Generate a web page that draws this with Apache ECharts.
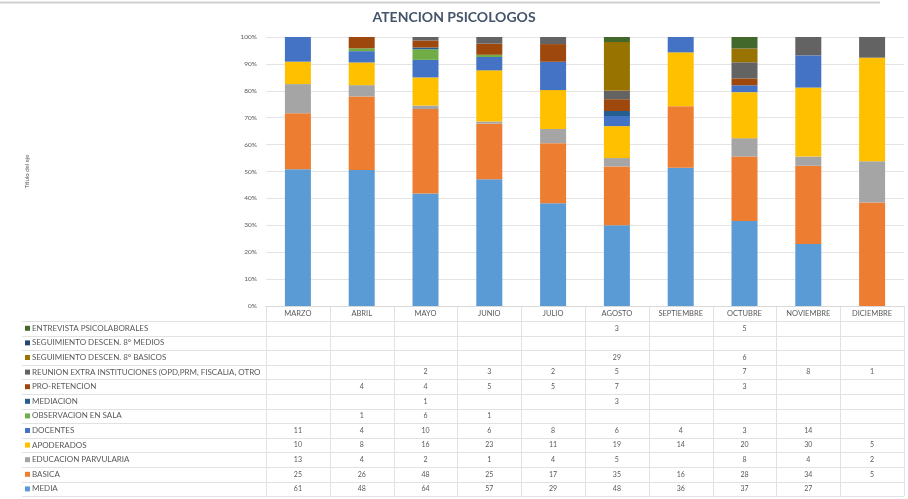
<!DOCTYPE html>
<html>
<head>
<meta charset="utf-8">
<title>Atención psicólogos</title>
<script src="https://cdn.jsdelivr.net/npm/echarts@6/dist/echarts.min.js"></script>
<style>
  html, body { margin: 0; padding: 0; background: #fff; }
  #chart { width: 908px; height: 499px; }
</style>
</head>
<body>
<div id="chart"></div>
<script>
// categorias (meses)
const months = ['MARZO', 'ABRIL', 'MAYO', 'JUNIO', 'JULIO', 'AGOSTO', 'SEPTIEMBRE', 'OCTUBRE', 'NOVIEMBRE', 'DICIEMBRE']

// atenciones por tipo y mes (null = celda vacia)
const media = [61, 48, 64, 57, 29, 48, 36, 37, 27, null]
const basica = [25, 26, 48, 25, 17, 35, 16, 28, 34, 5]
const parvularia = [13, 4, 2, 1, 4, 5, null, 8, 4, 2]
const apoderados = [10, 8, 16, 23, 11, 19, 14, 20, 30, 5]
const docentes = [11, 4, 10, 6, 8, 6, 4, 3, 14, null]
const observacion = [null, 1, 6, 1, null, null, null, null, null, null]
const mediacion = [null, null, 1, null, null, 3, null, null, null, null]
const proRetencion = [null, 4, 4, 5, 5, 7, null, 3, null, null]
const reunion = [null, null, 2, 3, 2, 5, null, 7, 8, 1]
const segBasicos = [null, null, null, null, null, 29, null, 6, null, null]
const segMedios = [null, null, null, null, null, null, null, null, null, null]
const entrevista = [null, null, null, null, null, 3, null, 5, null, null]

// orden de apilado: de abajo hacia arriba
const seriesDefs = [
  { name: 'MEDIA', data: media, color: '#5B9BD5' },
  { name: 'BASICA', data: basica, color: '#ED7D31' },
  { name: 'EDUCACION PARVULARIA', data: parvularia, color: '#A5A5A5' },
  { name: 'APODERADOS', data: apoderados, color: '#FFC000' },
  { name: 'DOCENTES', data: docentes, color: '#4472C4' },
  { name: 'OBSERVACION EN SALA', data: observacion, color: '#70AD47' },
  { name: 'MEDIACION', data: mediacion, color: '#255E91' },
  { name: 'PRO-RETENCION', data: proRetencion, color: '#9E480E' },
  { name: 'REUNION EXTRA INSTITUCIONES (OPD,PRM, FISCALIA, OTROS)', data: reunion, color: '#636363' },
  { name: 'SEGUIMIENTO DESCEN. 8° BASICOS', data: segBasicos, color: '#997300' },
  { name: 'SEGUIMIENTO DESCEN. 8° MEDIOS', data: segMedios, color: '#264478' },
  { name: 'ENTREVISTA PSICOLABORALES', data: entrevista, color: '#43682B' }
]

const totals = months.map((m, i) => seriesDefs.reduce((s, d) => s + (d.data[i] || 0), 0))

const W = 908
const gridLeft = 266
const gridRight = 4
const gridTop = 37
const gridBottom = 193
const textColor = '#595959'

let myChart = echarts.init(document.getElementById('chart'))
myChart.setOption({
  animation: false,
  textStyle: { fontFamily: 'Lato, "Open Sans", sans-serif' },
  title: {
    text: 'ATENCION PSICOLOGOS',
    left: 'center',
    top: 5,
    textStyle: { fontSize: 14, fontWeight: 'bold', color: '#44546A' }
  },
  grid: { left: gridLeft, right: gridRight, top: gridTop, bottom: gridBottom },
  xAxis: {
    type: 'category',
    data: months,
    axisTick: { show: false },
    axisLine: { lineStyle: { color: '#d9d9d9' } },
    axisLabel: { fontSize: 7.5, color: textColor, margin: 4, interval: 0 }
  },
  yAxis: {
    type: 'value',
    min: 0,
    max: 100,
    interval: 10,
    name: 'Título del eje',
    nameLocation: 'middle',
    nameGap: 236,
    nameTextStyle: { fontSize: 6, color: textColor },
    axisLabel: { formatter: '{value}%', fontSize: 6.5, color: textColor, margin: 9 },
    splitLine: { lineStyle: { color: '#e4e4e4' } }
  },
  series: seriesDefs.map(d => ({
    name: d.name,
    type: 'bar',
    stack: 'total',
    barWidth: 26,
    itemStyle: { color: d.color },
    data: d.data.map((v, i) => (v == null ? null : v / totals[i] * 100))
  }))
})

// tabla de datos bajo el grafico
const rowTop = 321
const rowH = 14.6
const tableLeft = 22
const tableRight = W - gridRight
const band = (W - gridLeft - gridRight) / months.length
const tableRows = seriesDefs.slice().reverse()
const tableBottom = rowTop + tableRows.length * rowH
const lineStyle = { stroke: '#e2e2e2', lineWidth: 1 }
let graphic = []

for (let r = 0; r <= tableRows.length; r++) {
  const y = Math.round(rowTop + r * rowH) + 0.5
  graphic.push({ type: 'line', silent: true, shape: { x1: tableLeft, y1: y, x2: tableRight, y2: y }, style: lineStyle })
}
for (let c = 0; c <= months.length; c++) {
  const x = Math.round(gridLeft + c * band) + 0.5
  graphic.push({ type: 'line', silent: true, shape: { x1: x, y1: 306, x2: x, y2: tableBottom }, style: lineStyle })
}

tableRows.forEach((d, r) => {
  const yc = rowTop + r * rowH + rowH / 2
  graphic.push({ type: 'rect', silent: true, shape: { x: 25, y: yc - 2.5, width: 5, height: 5 }, style: { fill: d.color } })
  graphic.push({
    type: 'text',
    silent: true,
    x: 32,
    y: yc,
    style: {
      text: d.name,
      fontSize: 8,
      fontFamily: 'Lato, sans-serif',
      fill: textColor,
      verticalAlign: 'middle',
      width: gridLeft - 36,
      overflow: 'truncate',
      ellipsis: ''
    }
  })
  d.data.forEach((v, i) => {
    if (v == null) return
    const xc = myChart.convertToPixel({ xAxisIndex: 0 }, months[i])
    graphic.push({
      type: 'text',
      silent: true,
      x: xc,
      y: yc,
      style: { text: String(v), fontSize: 7, fontFamily: 'Lato, sans-serif', fill: textColor, align: 'center', verticalAlign: 'middle' }
    })
  })
})

// borde superior de la ventana
graphic.push({ type: 'line', silent: true, shape: { x1: 0, y1: 2.5, x2: 880, y2: 2.5 }, style: { stroke: '#cfcfcf', lineWidth: 2 } })

myChart.setOption({ graphic: graphic })
</script>
</body>
</html>
